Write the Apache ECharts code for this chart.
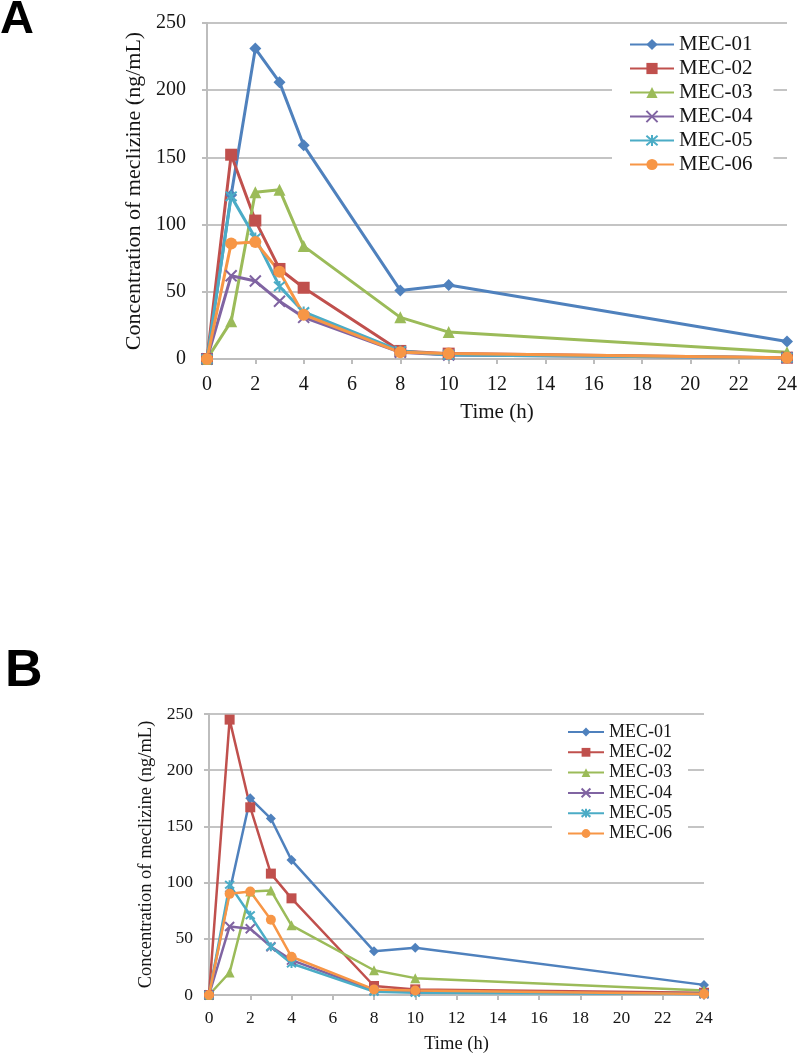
<!DOCTYPE html>
<html><head><meta charset="utf-8">
<script src="https://cdn.jsdelivr.net/npm/echarts@6/dist/echarts.min.js"></script>
<style>html,body{margin:0;padding:0;background:#fff}#c{width:800px;height:1057px}</style>
</head><body><div id="c"></div>
<script>
var times = [0, 1, 2, 3, 4, 8, 10, 24];
var seriesNames = ['MEC-01', 'MEC-02', 'MEC-03', 'MEC-04', 'MEC-05', 'MEC-06'];
var xTicks = [0, 2, 4, 6, 8, 10, 12, 14, 16, 18, 20, 22, 24];
var yTicks = [0, 50, 100, 150, 200, 250];

// Panel A
var a01 = [0, 122, 231, 206, 159, 51, 55, 13];
var a02 = [0, 152, 103, 67, 53, 6, 4, 1];
var a03 = [0, 28, 124, 126, 84, 31, 20, 5];
var a04 = [0, 62, 58, 43, 31, 5, 3, 1];
var a05 = [0, 121, 90, 54, 35, 6, 3, 1];
var a06 = [0, 86, 87, 65, 33, 5, 4, 1];

// Panel B
var b01 = [0, 92, 175, 157, 120, 39, 42, 9];
var b02 = [0, 245, 167, 108, 86, 8, 5, 2];
var b03 = [0, 20, 92, 93, 62, 22, 15, 4];
var b04 = [0, 61, 59, 43, 31, 4, 3, 1];
var b05 = [0, 98, 71, 43, 28, 3, 2, 1];
var b06 = [0, 90, 92, 67, 34, 5, 4, 1];

var colors = ['#4F81BD', '#C0504D', '#9BBB59', '#8064A2', '#4BACC6', '#F79646'];
var xPath = 'path://M0,0L10,10M10,0L0,10';
var starPath = 'path://M0,0L10,10M10,0L0,10M5,-1L5,11';
var symbols = ['diamond', 'rect', 'triangle', xPath, starPath, 'circle'];
var FONT = '"Liberation Serif", "Times New Roman", serif';
var TXT = '#151515';

function pairs(arr) { return times.map(function (t, i) { return [t, arr[i]]; }); }

var dataA = [a01, a02, a03, a04, a05, a06];
var dataB = [b01, b02, b03, b04, b05, b06];
var sizesA = [12, 12, 12, 11, 11, 12];
var sizesB = [10, 10, 10, 9, 9, 10];

function mkSeries(data, idx, sizes, lw) {
  return data.map(function (arr, i) {
    var isLine = (i === 3 || i === 4);
    return {
      name: seriesNames[i], type: 'line', xAxisIndex: idx, yAxisIndex: idx,
      data: pairs(arr), symbol: symbols[i], symbolSize: sizes[i],
      showAllSymbol: true,
      lineStyle: { color: colors[i], width: lw },
      itemStyle: { color: colors[i], borderColor: colors[i], borderWidth: isLine ? 2 : 0 },
      emphasis: { disabled: true }, animation: false
    };
  });
}

function mkX(idx, fs, margin, gap) {
  return {
    gridIndex: idx, type: 'value', min: 0, max: 24, interval: 2,
    name: 'Time (h)', nameLocation: 'middle', nameGap: gap,
    nameTextStyle: { fontFamily: FONT, fontSize: fs + 1, color: TXT },
    axisLine: { show: true, onZero: false, lineStyle: { color: '#bdbdbd', width: 2 } },
    axisTick: { show: true, length: 5, lineStyle: { color: '#bdbdbd', width: 2 } },
    axisLabel: { fontFamily: FONT, fontSize: fs, color: TXT, margin: margin,
      formatter: function (v) { return xTicks.indexOf(v) >= 0 ? String(v) : ''; } },
    splitLine: { show: false }
  };
}
function mkY(idx, fs, margin, gap, nfs) {
  return {
    gridIndex: idx, type: 'value', min: 0, max: 250, interval: 50,
    name: 'Concentration of meclizine (ng/mL)', nameLocation: 'middle', nameGap: gap,
    nameTextStyle: { fontFamily: FONT, fontSize: nfs, color: TXT },
    axisLine: { show: true, lineStyle: { color: '#bdbdbd', width: 2 } },
    axisTick: { show: true, length: 5, lineStyle: { color: '#bdbdbd', width: 2 } },
    axisLabel: { fontFamily: FONT, fontSize: fs, color: TXT, margin: margin,
      formatter: function (v) { return yTicks.indexOf(v) >= 0 ? String(v) : ''; } },
    splitLine: { show: true, lineStyle: { color: '#c4c4c4', width: 2 } }
  };
}

var chart = echarts.init(document.getElementById('c'), null, { renderer: 'canvas' });
chart.setOption({
  backgroundColor: '#fff',
  animation: false,
  grid: [
    { left: 207, top: 23, width: 583, height: 336, containLabel: false },
    { left: 209, top: 714, width: 495, height: 281, containLabel: false }
  ],
  xAxis: [mkX(0, 20, 16, 43), mkX(1, 17.5, 14, 40)],
  yAxis: [mkY(0, 20, 21, 56, 22), mkY(1, 17.5, 16, 47, 18.5)],
  legend: [
    { data: seriesNames.slice(), orient: 'vertical', left: 612, top: 30,
      padding: [4, 21, 4, 17], itemGap: 3, itemWidth: 44, itemHeight: 14,
      backgroundColor: '#fff', selectedMode: false,
      textStyle: { fontFamily: FONT, fontSize: 21, color: TXT } },
    { data: seriesNames.slice(), orient: 'vertical', left: 552, top: 719,
      padding: [4, 16, 4, 15], itemGap: 2.3, itemWidth: 36, itemHeight: 11,
      backgroundColor: '#fff', selectedMode: false,
      textStyle: { fontFamily: FONT, fontSize: 18, color: TXT } }
  ],
  graphic: [
    { type: 'text', left: 0, top: -3, style: { text: 'A', font: 'bold 47px "Liberation Sans", Arial, sans-serif', fill: '#000' } },
    { type: 'text', left: 5, top: 646, style: { text: 'B', font: 'bold 52px "Liberation Sans", Arial, sans-serif', fill: '#000' } }
  ],
  series: mkSeries(dataA, 0, sizesA, 3).concat(mkSeries(dataB, 1, sizesB, 2.5))
});
</script></body></html>
